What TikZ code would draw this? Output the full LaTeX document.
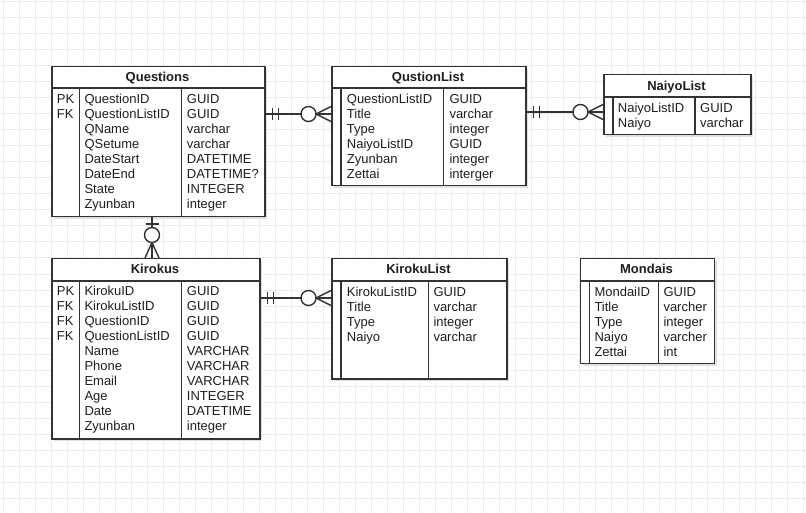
\documentclass[tikz,border=0pt]{standalone}
\usepackage{fontspec}
\setmainfont{Liberation Sans}
\usetikzlibrary{calc}
\definecolor{gridc}{HTML}{EBEBEB}
\definecolor{linec}{HTML}{333333}
\definecolor{txtc}{HTML}{1E1E1E}
\definecolor{shadc}{HTML}{E0E0E0}
\newcommand{\erhrel}[2]{%
  \draw[conn] (#1) -- (#2);
  \draw[conn] ($(#1)+(7,-6)$) -- ($(#1)+(7,6)$);
  \draw[conn] ($(#1)+(13,-6)$) -- ($(#1)+(13,6)$);
  \draw[conn] ($(#2)+(-15,0)$) -- ($(#2)+(0,-7.5)$);
  \draw[conn] ($(#2)+(-15,0)$) -- ($(#2)+(0,7.5)$);
  \draw[conn,fill=white] ($(#2)+(-22.5,0)$) circle[radius=7.5pt];
}
\newcommand{\ershadow}[4]{%
  \fill[shadc] ({#1+3},{#2+3}) rectangle ({#1+#3+3},{#2+#4+3});
}
\begin{document}
\begin{tikzpicture}[x=1pt,y=-1pt,
  gridline/.style={draw=gridc,line width=1pt},
  tbox/.style={draw=linec,line width=1.5pt,fill=white,rectangle,inner sep=0pt,anchor=north west},
  sep/.style={draw=linec,line width=1.5pt},
  conn/.style={draw=linec,line width=1.4pt},
  ttl/.style={anchor=base,inner sep=0pt,font=\bfseries\fontsize{13}{15}\selectfont,text=txtc},
  cell/.style={anchor=base west,inner sep=0pt,font=\fontsize{13}{15}\selectfont,text=txtc}]
\fill[white] (0,0) rectangle (806,513);
\useasboundingbox (0,0) rectangle (806,513);
\foreach \x in {3,19,...,803} \draw[gridline] (\x,0) -- (\x,513);
\foreach \y in {2,18,...,512} \draw[gridline] (0,\y) -- (806,\y);

% ---------- Questions
\ershadow{51}{66}{213}{150}
\node[tbox,minimum width=213pt,minimum height=150pt] (questions) at (51,66) {};
\draw[sep] ($(questions.north west)+(0,22)$) -- ($(questions.north east)+(0,22)$);
\draw[sep] ($(questions.north west)+(28.3,22)$) -- ($(questions.south west)+(28.3,0)$);
\draw[sep] ($(questions.north west)+(130.7,22)$) -- ($(questions.south west)+(130.7,0)$);
\node[ttl] (questions-t) at (157.5,81.6) {Questions};
\node[cell] (questions-k1) at (56.7,103.6) {PK};
\node[cell] (questions-k2) at (56.7,118.6) {FK};
\foreach \n/\t [count=\i] in {QuestionID/GUID,QuestionListID/GUID,QName/varchar,QSetume/varchar,DateStart/DATETIME,DateEnd/DATETIME?,State/INTEGER,Zyunban/integer}{
  \node[cell] (questions-n\i) at (84.3,{103.6+15*(\i-1)}) {\n};
  \node[cell] (questions-y\i) at (186.7,{103.6+15*(\i-1)}) {\t};
}

% ---------- QustionList
\ershadow{331}{66}{194}{119}
\node[tbox,minimum width=194pt,minimum height=119pt] (qlist) at (331,66) {};
\draw[sep] ($(qlist.north west)+(0,22)$) -- ($(qlist.north east)+(0,22)$);
\draw[sep] ($(qlist.north west)+(10,22)$) -- ($(qlist.south west)+(10,0)$);
\draw[sep] ($(qlist.north west)+(112.3,22)$) -- ($(qlist.south west)+(112.3,0)$);
\node[ttl] (qlist-t) at (428,81.6) {QustionList};
\foreach \n/\t [count=\i] in {QuestionListID/GUID,Title/varchar,Type/integer,NaiyoListID/GUID,Zyunban/integer,Zettai/interger}{
  \node[cell] (qlist-n\i) at (346.7,{103.6+15*(\i-1)}) {\n};
  \node[cell] (qlist-y\i) at (449.3,{103.6+15*(\i-1)}) {\t};
}

% ---------- NaiyoList
\ershadow{603}{74}{147}{60}
\node[tbox,minimum width=147pt,minimum height=60pt] (naiyo) at (603,74) {};
\draw[sep] ($(naiyo.north west)+(0,23)$) -- ($(naiyo.north east)+(0,23)$);
\draw[sep] ($(naiyo.north west)+(10,23)$) -- ($(naiyo.south west)+(10,0)$);
\draw[sep] ($(naiyo.north west)+(92,23)$) -- ($(naiyo.south west)+(92,0)$);
\node[ttl] (naiyo-t) at (676.5,90.1) {NaiyoList};
\foreach \n/\t [count=\i] in {NaiyoListID/GUID,Naiyo/varchar}{
  \node[cell] (naiyo-n\i) at (617.7,{112.1+15*(\i-1)}) {\n};
  \node[cell] (naiyo-y\i) at (700,{112.1+15*(\i-1)}) {\t};
}

% ---------- Kirokus
\ershadow{51}{258}{208}{180}
\node[tbox,minimum width=208pt,minimum height=180pt] (kirokus) at (51,258) {};
\draw[sep] ($(kirokus.north west)+(0,23)$) -- ($(kirokus.north east)+(0,23)$);
\draw[sep] ($(kirokus.north west)+(28.3,23)$) -- ($(kirokus.south west)+(28.3,0)$);
\draw[sep] ($(kirokus.north west)+(130.7,23)$) -- ($(kirokus.south west)+(130.7,0)$);
\node[ttl] (kirokus-t) at (155,273.2) {Kirokus};
\foreach \k [count=\i] in {PK,FK,FK,FK}{
  \node[cell] (kirokus-k\i) at (56.7,{295.6+15*(\i-1)}) {\k};
}
\foreach \n/\t [count=\i] in {KirokuID/GUID,KirokuListID/GUID,QuestionID/GUID,QuestionListID/GUID,Name/VARCHAR,Phone/VARCHAR,Email/VARCHAR,Age/INTEGER,Date/DATETIME,Zyunban/integer}{
  \node[cell] (kirokus-n\i) at (84.3,{295.6+15*(\i-1)}) {\n};
  \node[cell] (kirokus-y\i) at (186.7,{295.6+15*(\i-1)}) {\t};
}

% ---------- KirokuList
\ershadow{331}{258}{175}{120}
\node[tbox,minimum width=175pt,minimum height=120pt] (klist) at (331,258) {};
\draw[sep] ($(klist.north west)+(0,23)$) -- ($(klist.north east)+(0,23)$);
\draw[sep] ($(klist.north west)+(10,23)$) -- ($(klist.south west)+(10,0)$);
\draw[sep] ($(klist.north west)+(97.5,23)$) -- ($(klist.south west)+(97.5,0)$);
\node[ttl] (klist-t) at (418.5,273.2) {KirokuList};
\foreach \n/\t [count=\i] in {KirokuListID/GUID,Title/varchar,Type/integer,Naiyo/varchar}{
  \node[cell] (klist-n\i) at (346.7,{296.3+15*(\i-1)}) {\n};
  \node[cell] (klist-y\i) at (433.3,{296.3+15*(\i-1)}) {\t};
}

% ---------- Mondais
\ershadow{579.5}{258}{134}{104.5}
\node[tbox,minimum width=134pt,minimum height=104.5pt] (mondais) at (579.5,258) {};
\draw[sep] ($(mondais.north west)+(0,23)$) -- ($(mondais.north east)+(0,23)$);
\draw[sep] ($(mondais.north west)+(10,23)$) -- ($(mondais.south west)+(10,0)$);
\draw[sep] ($(mondais.north west)+(79,23)$) -- ($(mondais.south west)+(79,0)$);
\node[ttl] (mondais-t) at (646.5,273.2) {Mondais};
\foreach \n/\t [count=\i] in {MondaiID/GUID,Title/varcher,Type/integer,Naiyo/varcher,Zettai/int}{
  \node[cell] (mondais-n\i) at (594.3,{296.3+15*(\i-1)}) {\n};
  \node[cell] (mondais-y\i) at (663.3,{296.3+15*(\i-1)}) {\t};
}

% ---------- relations
\coordinate (r1a) at ($(questions.north east)+(0,48)$);
\coordinate (r1b) at ($(qlist.north west)+(0,48)$);
\erhrel{r1a}{r1b}
\coordinate (r2a) at ($(qlist.north east)+(0,46)$);
\coordinate (r2b) at ($(naiyo.north west)+(0,38)$);
\erhrel{r2a}{r2b}
\coordinate (r4a) at ($(kirokus.north east)+(0,40)$);
\coordinate (r4b) at ($(klist.north west)+(0,40)$);
\erhrel{r4a}{r4b}

\coordinate (r3a) at ($(questions.south west)+(101,0)$);
\coordinate (r3b) at ($(kirokus.north west)+(101,0)$);
\draw[conn] (r3a) -- (r3b);
\draw[conn] ($(r3a)+(-6.5,6.5)$) -- ($(r3a)+(6.5,6.5)$);
\draw[conn] ($(r3b)+(0,-15.5)$) -- ($(r3b)+(-7,0)$);
\draw[conn] ($(r3b)+(0,-15.5)$) -- ($(r3b)+(7,0)$);
\draw[conn,fill=white] ($(r3b)+(0,-23)$) circle[radius=7.5pt];
\end{tikzpicture}
\end{document}
